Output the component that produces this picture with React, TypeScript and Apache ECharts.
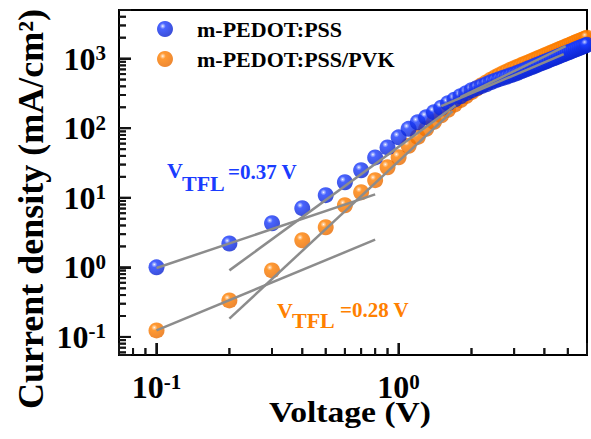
import React, { useEffect, useRef } from 'react';
import * as echarts from 'echarts';

// ---------- data ----------
const voltages = [
  0.1, 0.2, 0.3, 0.4, 0.5, 0.6, 0.7, 0.8, 0.9, 1.0,
  1.1, 1.2, 1.3, 1.4, 1.5, 1.6, 1.7, 1.8, 1.9, 2.0,
  2.1, 2.2, 2.3, 2.4, 2.5, 2.6, 2.7, 2.8, 2.9, 3.0,
  3.1, 3.2, 3.3, 3.4, 3.5, 3.6, 3.7, 3.8, 3.9, 4.0,
  4.1, 4.2, 4.3, 4.4, 4.5, 4.6, 4.7, 4.8, 4.9, 5.0,
  5.1, 5.2, 5.3, 5.4, 5.5, 5.6, 5.7, 5.8, 5.9, 6.0,
];

const pedotPss = [
  1.0, 2.2, 4.3, 7.1, 10.9, 16.7, 24.9, 38, 53, 74,
  98, 122, 144, 170, 197, 229, 257, 288, 319, 351,
  376, 402, 429, 457, 482, 507, 530, 552, 575, 598,
  626, 655, 683, 713, 742, 772, 802, 833, 863, 895,
  926, 958, 990, 1022, 1055, 1088, 1121, 1155, 1189, 1223,
  1257, 1292, 1326, 1362, 1397, 1433, 1469, 1505, 1541, 1578,
];

const pedotPssPvk = [
  0.124, 0.335, 0.905, 2.45, 3.77, 7.8, 12.0, 17.9, 27.5, 38.3,
  56, 75, 98, 124, 153, 184, 218, 253, 290, 330,
  372, 414, 455, 497, 538, 578, 617, 655, 692, 728,
  764, 800, 837, 874, 912, 950, 989, 1028, 1068, 1108,
  1149, 1190, 1231, 1274, 1316, 1359, 1402, 1446, 1490, 1535,
  1580, 1625, 1671, 1717, 1764, 1811, 1858, 1906, 1954, 2003,
];

// fit lines (start / end points)
const blueOhmicFit = [[0.1, 0.98], [0.8, 11.2]];
const blueTflFit = [[0.2, 0.905], [1.72, 214]];
const blueChildFit = [[1.5, 207], [4.81, 1161]];
const orangeOhmicFit = [[0.1, 0.124], [0.8, 2.5]];
const orangeTflFit = [[0.2, 0.183], [1.67, 176]];
const orangeChildFit = [[1.8, 279], [4.9, 1513]];

const seriesNames = ['m-PEDOT:PSS', 'm-PEDOT:PSS/PVK'];

// axis ticks
const xMajorTicks = [0.1, 1];
const xMinorTicks = [0.08, 0.09, 0.2, 0.3, 0.4, 0.5, 0.6, 0.7, 0.8, 0.9, 2, 3, 4, 5];
const yMajorTicks = [0.1, 1, 10, 100, 1000];
const yMinorTicks = [
  0.06, 0.07, 0.08, 0.09,
  0.2, 0.3, 0.4, 0.5, 0.6, 0.7, 0.8, 0.9,
  2, 3, 4, 5, 6, 7, 8, 9,
  20, 30, 40, 50, 60, 70, 80, 90,
  200, 300, 400, 500, 600, 700, 800, 900,
  2000, 3000, 4000,
];

const xMin = 0.07;
const xMax = 6;
const yMin = 0.055;
const yMax = 5000;

const FONT = 'Liberation Serif';
const BLUE = '#1a3cff';
const ORANGE = '#ff8000';
const GRAY = '#8c8c8c';
const TICK = '#141414';

function sphere(base: string, mid: string, edge: string) {
  return new echarts.graphic.RadialGradient(0.36, 0.32, 0.72, [
    { offset: 0, color: '#ffffff' },
    { offset: 0.08, color: mid },
    { offset: 0.26, color: base },
    { offset: 1, color: edge },
  ]);
}

function powLabel(v: number) {
  const e = Math.log10(v);
  const r = Math.round(e);
  if (Math.abs(e - r) > 1e-6) return '';
  return `{b|10}{s|${r}}`;
}

const labelRich = {
  b: { fontFamily: FONT, fontWeight: 'bold', fontSize: 32, color: '#000' },
  s: { fontFamily: FONT, fontWeight: 'bold', fontSize: 21, color: '#000', verticalAlign: 'top' },
};

function fitLine(data: number[][]) {
  return {
    type: 'line',
    data,
    symbol: 'none',
    z: 4,
    lineStyle: { color: GRAY, width: 2.5 },
  };
}

function annot(x: number, y: number, text: string, size: number, color: string) {
  return {
    type: 'text',
    x,
    y,
    z: 20,
    style: {
      text,
      fontFamily: FONT,
      fontWeight: 'bold',
      fontSize: size,
      fill: color,
      align: 'left',
      verticalAlign: 'middle',
      textAlign: 'left',
      textVerticalAlign: 'middle',
    },
  };
}

const textGraphics: any[] = [
  {
    type: 'text',
    x: 31,
    y: 209,
    rotation: Math.PI / 2,
    z: 20,
    style: {
      text: 'Current density (mA/cm²)',
      fontFamily: FONT,
      fontWeight: 'bold',
      fontSize: 36,
      fill: '#000',
      align: 'center',
      verticalAlign: 'middle',
      textAlign: 'center',
      textVerticalAlign: 'middle',
    },
  },
  {
    type: 'text',
    x: 350,
    y: 412,
    scaleX: 1.12,
    z: 20,
    style: {
      text: 'Voltage (V)',
      fontFamily: FONT,
      fontWeight: 'bold',
      fontSize: 30,
      fill: '#000',
      align: 'center',
      verticalAlign: 'middle',
      textAlign: 'center',
      textVerticalAlign: 'middle',
    },
  },
  annot(167, 170, 'V', 22, BLUE),
  annot(182, 183, 'TFL', 22, BLUE),
  annot(228, 172, '=0.37 V', 21, BLUE),
  annot(277, 310, 'V', 22, ORANGE),
  annot(292, 320, 'TFL', 22, ORANGE),
  annot(340, 310, '=0.28 V', 21, ORANGE),
];

// tick marks as thin rect symbols placed through the axes' scales
function xTickSeries(values: number[], len: number) {
  return {
    type: 'scatter',
    data: values.map((v) => [v, yMin]),
    symbol: 'rect',
    symbolSize: [2, len],
    symbolOffset: [0, -len / 2],
    clip: false,
    z: 6,
    itemStyle: { color: TICK },
  };
}
function yTickSeries(values: number[], len: number) {
  return {
    type: 'scatter',
    data: values.map((v) => [xMin, v]),
    symbol: 'rect',
    symbolSize: [len, 2],
    symbolOffset: [len / 2, 0],
    clip: false,
    z: 6,
    itemStyle: { color: TICK },
  };
}

export default function App() {
  const ref = useRef<HTMLDivElement>(null);

  useEffect(() => {
    if (!ref.current) return;
    const chart = echarts.init(ref.current, undefined, { renderer: 'svg' });

    const axisCommon = {
      axisLine: { show: true, lineStyle: { color: '#000', width: 2 } },
      axisTick: { show: true, inside: true, length: 12, lineStyle: { color: TICK, width: 2 } },
      splitLine: { show: false },
    };

    const option: any = {
      animation: false,
      grid: {
        left: 119,
        right: 4,
        top: 10,
        bottom: 84,
        show: true,
        borderColor: '#000',
        borderWidth: 2,
      },
      legend: {
        data: seriesNames,
        orient: 'vertical',
        left: 152,
        top: 13,
        itemWidth: 16,
        itemHeight: 16,
        itemGap: 8,
        icon: 'circle',
        textStyle: {
          fontFamily: FONT,
          fontWeight: 'bold',
          fontSize: 22,
          color: '#000',
          padding: [0, 0, 0, 19],
        },
      },
      xAxis: {
        type: 'log',
        logBase: 10,
        min: xMin,
        max: xMax,
        ...axisCommon,
        axisLabel: { formatter: powLabel, rich: labelRich, margin: 16 },
      },
      yAxis: {
        type: 'log',
        logBase: 10,
        min: yMin,
        max: yMax,
        ...axisCommon,
        axisLabel: { formatter: powLabel, rich: labelRich, margin: 13 },
      },
      graphic: textGraphics,
      series: [
        {
          name: seriesNames[1],
          type: 'scatter',
          symbolSize: 16,
          z: 2,
          data: voltages.map((v, i) => [v, pedotPssPvk[i]]),
          itemStyle: { color: sphere(ORANGE, '#ffc890', '#e86a00') },
        },
        {
          name: seriesNames[0],
          type: 'scatter',
          symbolSize: 16,
          z: 3,
          data: voltages.map((v, i) => [v, pedotPss[i]]),
          itemStyle: { color: sphere(BLUE, '#a0b0ff', '#0a22cc') },
        },
        fitLine(blueOhmicFit),
        fitLine(blueTflFit),
        fitLine(blueChildFit),
        fitLine(orangeOhmicFit),
        fitLine(orangeTflFit),
        fitLine(orangeChildFit),
        xTickSeries(xMajorTicks, 12),
        xTickSeries(xMinorTicks, 7),
        yTickSeries(yMajorTicks, 12),
        yTickSeries(yMinorTicks, 7),
      ],
    };

    chart.setOption(option);

    // same tick marks again as graphic rects, positioned with the chart's own scales
    const tickEls: any[] = [];
    try {
      const toPx = (pt: number[]) => chart.convertToPixel({ gridIndex: 0 }, pt) as number[];
      const corner = toPx([xMin, yMin]);
      const left = corner[0];
      const bottom = corner[1];
      const addX = (vals: number[], len: number) =>
        vals.forEach((v) => {
          const x = toPx([v, yMin])[0];
          tickEls.push({ type: 'rect', z: 30, shape: { x: x - 1, y: bottom - len, width: 2, height: len }, style: { fill: TICK } });
        });
      const addY = (vals: number[], len: number) =>
        vals.forEach((v) => {
          const y = toPx([xMin, v])[1];
          tickEls.push({ type: 'rect', z: 30, shape: { x: left, y: y - 1, width: len, height: 2 }, style: { fill: TICK } });
        });
      addX(xMajorTicks, 12);
      addX(xMinorTicks, 7);
      addY(yMajorTicks, 12);
      addY(yMinorTicks, 7);
    } catch (e) {
      // keep chart as is
    }
    chart.setOption({ graphic: [...textGraphics, ...tickEls] });

    return () => chart.dispose();
  }, []);

  return (
    <div
      ref={ref}
      style={{ position: 'fixed', left: 0, top: 0, width: 591, height: 439, background: '#fff' }}
    />
  );
}
